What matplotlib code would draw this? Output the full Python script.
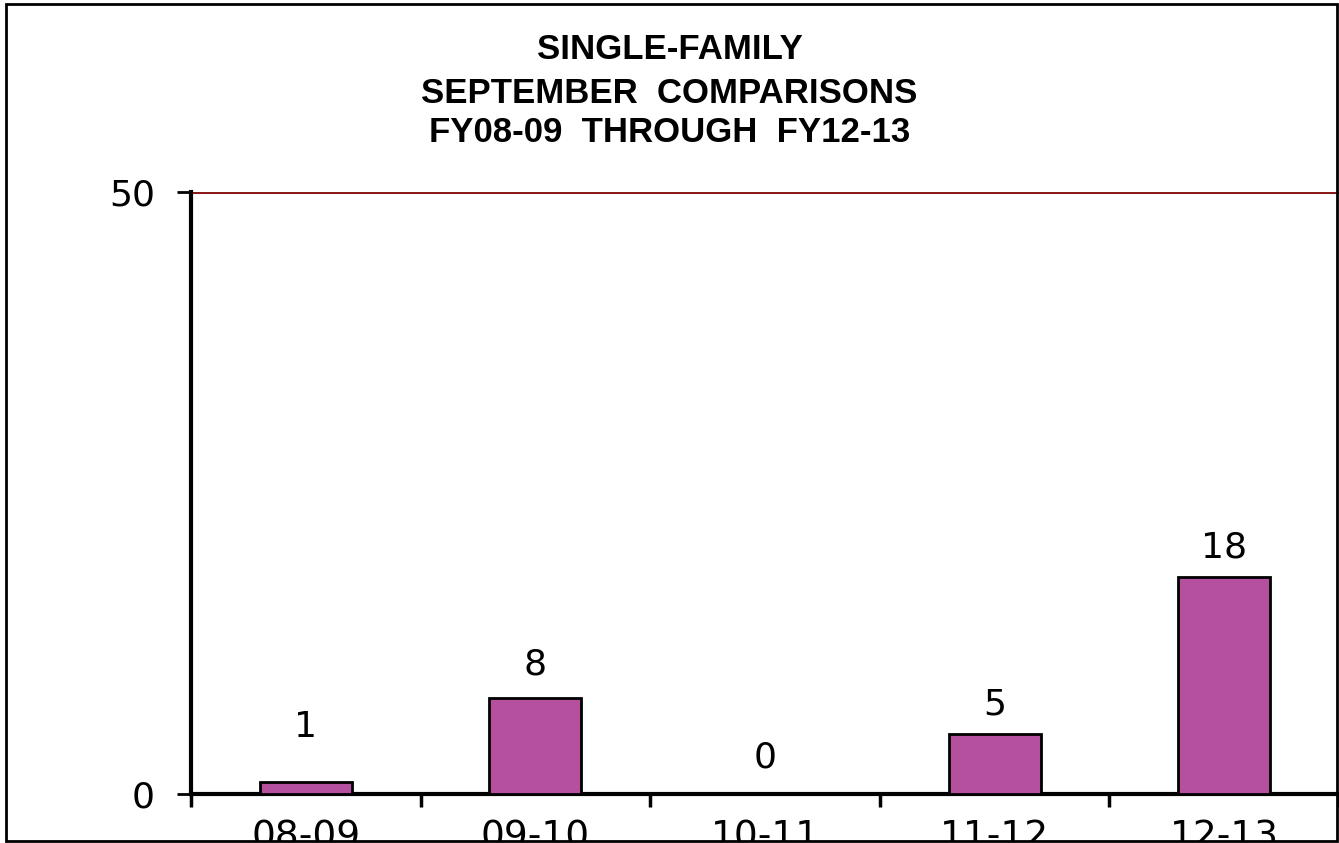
import numpy as np
import matplotlib.pyplot as plt
from matplotlib.patches import Rectangle

plt.rcParams['font.family'] = ['DejaVu Sans']

# chart data
years = ["08-09", "09-10", "10-11", "11-12", "12-13"]
counts = [1, 8, 0, 5, 18]
title_lines = ["SINGLE-FAMILY", "SEPTEMBER  COMPARISONS", "FY08-09  THROUGH  FY12-13"]

# label gap above each bar, in pixels (Excel places them unevenly)
label_gap = [45, 23, 27, 19, 20]

W, H = 1339, 843
fig = plt.figure(figsize=(W / 100, H / 100), dpi=100)
ax = fig.add_axes([191 / W, 1 - 794 / H, 1148 / W, (794 - 192) / H])

x = np.arange(len(years))
ax.bar(x, counts, width=0.4, color="#b5509e", edgecolor="black", linewidth=2, zorder=3)

for xi, v, g in zip(x, counts, label_gap):
    ax.annotate(str(v), (xi, v), xytext=(0, g * 0.72), textcoords="offset points",
                ha="center", va="baseline", fontsize=26, zorder=4)

ax.set_xlim(-0.5, len(years) - 0.5)
ax.set_ylim(0, 50)
ax.set_yticks([0, 50])
ax.set_xticks(x)
ax.set_xticklabels(years)
ax.set_xticks(np.arange(len(years) + 1) - 0.5, minor=True)
ax.tick_params(axis="x", which="major", length=0, pad=18, labelsize=27)
ax.tick_params(axis="x", which="minor", length=9, width=2.5, direction="out")
ax.tick_params(axis="y", length=10, width=2, pad=16, labelsize=26)

ax.axhline(50, color="#8b1a1a", linewidth=2.2, zorder=2)
for side in ["top", "right"]:
    ax.spines[side].set_visible(False)
ax.spines["left"].set_linewidth(3)
ax.spines["bottom"].set_linewidth(3)

# title, one line at a time (baseline in pixels from the top)
ys = [59, 103, 142]
for t, y in zip(title_lines, ys):
    fig.text(0.5, 1 - y / H, t, ha="center", va="baseline", fontsize=25,
             fontweight="bold", family=["Liberation Sans", "DejaVu Sans"])

# white strip below the frame, then the frame itself
fig.patches.append(Rectangle((0, 0), 1, 2.5 / H, transform=fig.transFigure,
                             facecolor="white", edgecolor="none", zorder=10))
fig.patches.append(Rectangle((6 / W, 2.5 / H), (1337 - 6) / W, (841 - 2.5 - 2) / H,
                             transform=fig.transFigure, fill=False,
                             edgecolor="black", linewidth=2, zorder=11))

fig.savefig("out.png", dpi=100)
